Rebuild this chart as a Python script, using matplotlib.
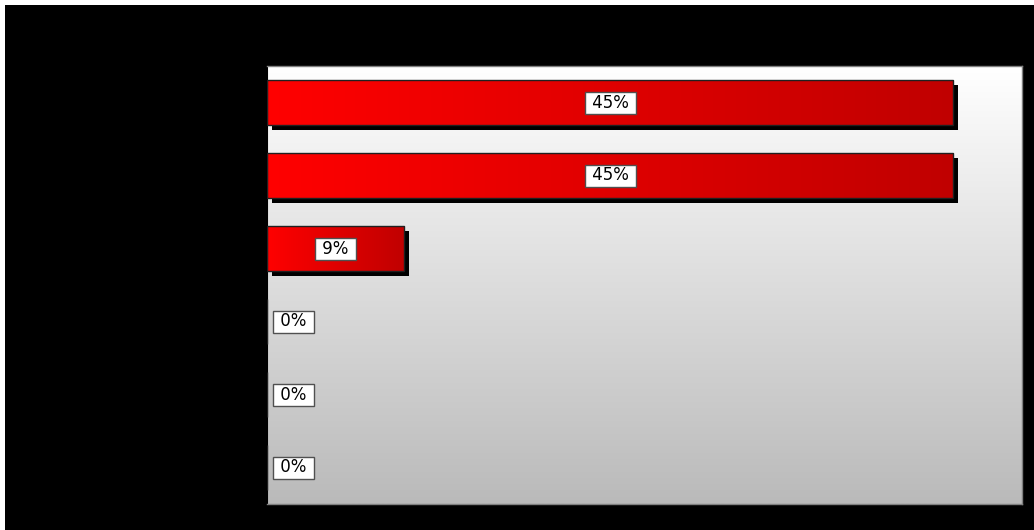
import numpy as np
import matplotlib
matplotlib.use('Agg')
import matplotlib.pyplot as plt
from matplotlib.patches import Rectangle
from matplotlib.colors import LinearSegmentedColormap
import matplotlib.transforms as mtransforms

plt.rcParams['font.family'] = ['DejaVu Sans']

# data (share of answers, top to bottom)
categories = ['A', 'B', 'C', 'D', 'E', 'F']
values = [5 / 11, 5 / 11, 1 / 11, 0.0, 0.0, 0.0]
labels = ['45%', '45%', '9%', '0%', '0%', '0%']

W, H = 1034, 530
fig = plt.figure(figsize=(W / 100, H / 100), dpi=100, facecolor='white')

# black chart area, small white margin at top/left
fig.add_artist(Rectangle((5 / W, 0), 1 - 5 / W, 1 - 5 / H, transform=fig.transFigure,
                         facecolor='black', edgecolor='none', zorder=-10))

ax = fig.add_axes([267 / W, (H - 504) / H, (1022 - 267) / W, (504 - 66) / H])
ax.set_zorder(1)

# plot area gradient white -> grey
bg = LinearSegmentedColormap.from_list('bg', ['#ffffff', '#bababa'])
ax.imshow(np.linspace(0, 1, 256).reshape(-1, 1), cmap=bg, aspect='auto',
          extent=[0, 0.5, len(categories) - 0.5, -0.5], zorder=0)

for s in ax.spines.values():
    s.set_color('#808080')
    s.set_linewidth(1)
ax.spines['left'].set_color('black')
ax.spines['left'].set_linewidth(1.5)
ax.set_xticks([])
ax.set_yticks([])

bar_h = 0.62
red = LinearSegmentedColormap.from_list('red', ['#ff0000', '#c00000'])
shadow_tr = ax.transData + mtransforms.ScaledTranslation(5 / 100, -5 / 100, fig.dpi_scale_trans)
y = np.arange(len(categories))

bars = ax.barh(y, values, height=bar_h, color='none', edgecolor='#202020', linewidth=1, zorder=3)
for yi, v, b in zip(y, values, bars):
    if v <= 0:
        continue
    sh = Rectangle((0, yi - bar_h / 2), v, bar_h, transform=shadow_tr,
                   facecolor='black', edgecolor='none', zorder=1)
    ax.add_patch(sh)
    im = ax.imshow(np.linspace(0, 1, 256).reshape(1, -1), cmap=red, aspect='auto',
                   extent=[0, v, yi + bar_h / 2, yi - bar_h / 2], zorder=2)
    im.set_clip_path(b)

ax.set_xlim(0, 0.5)
ax.set_ylim(len(categories) - 0.5, -0.5)

# labels in white boxes; spaces widen the box like the original
box = dict(boxstyle='square,pad=0.12', facecolor='white', edgecolor='#505050', linewidth=1)
for yi, v, lab in zip(y, values, labels):
    txt = ' ' + lab + ' '
    if v > 0:
        ax.text(v / 2, yi, txt, ha='center', va='center', fontsize=12, color='black',
                bbox=box, zorder=5)
    else:
        ax.annotate(txt, (0, yi), xytext=(8, 0), textcoords='offset pixels',
                    ha='left', va='center', fontsize=12, color='black', bbox=box, zorder=5)

fig.savefig('out.png', dpi=100, facecolor=fig.get_facecolor())
